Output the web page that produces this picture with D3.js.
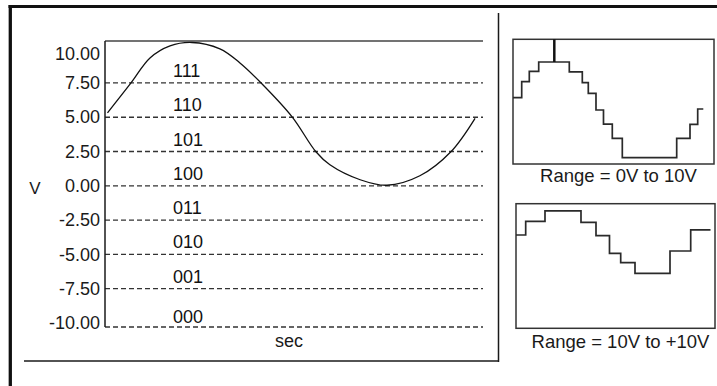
<!DOCTYPE html>
<html><head><meta charset="utf-8">
<script src="https://cdn.jsdelivr.net/npm/d3@7"></script>
<style>
html,body{margin:0;padding:0;background:#fff;}
svg{display:block;font-family:"Liberation Sans",Arial,Helvetica,sans-serif;}
</style></head>
<body>
<script>
// ---- data ----
const yTicks = [10, 7.5, 5, 2.5, 0, -2.5, -5, -7.5, -10];
const gridValues = [7.5, 5, 2.5, 0, -2.5, -5, -7.5];
const codes = ["000", "001", "010", "011", "100", "101", "110", "111"];
const codeLower = [-10, -7.5, -5, -2.5, 0, 2.5, 5, 7.5];
// analog signal (time in % of window, volts)
const sineT = [0.66, 6.88, 11.9, 17.2, 23.0, 30.4, 35.7, 41.3, 49.5, 55.8, 59.5, 67.5, 74.6, 83.3, 91.5, 97.9];
const sineV = [5.32, 7.50, 9.32, 10.20, 10.45, 9.98, 8.96, 7.50, 5.03, 2.48, 1.53, 0.44, 0.04, 0.73, 2.48, 4.92];
// quantized signal, range 0V to 10V
const topStepT = [0, 4.33, 8.11, 12.79, 28.01, 34.48, 37.46, 41.29, 45.02, 49.4, 54.38, 81.44, 88.06, 91.89, 94.68];
const topStepV = [5.32, 6.6, 7.43, 8.18, 7.38, 6.52, 5.67, 4.33, 3.19, 2.06, 0.51, 2.06, 3.18, 4.41];
const topSpikeT = 20.55;
const topSpikeV = [8.18, 10];
// quantized signal, range -10V to +10V
const botStepT = [0, 4.87, 14.57, 32.66, 40.2, 46.98, 52.61, 59.8, 77.39, 87.79, 97.74];
const botStepV = [4.98, 7.16, 8.86, 7.01, 4.86, 2.04, 0.53, -1.17, 2.41, 5.81];
const topLabel = "Range = 0V to 10V";
const botLabel = "Range = 10V to +10V";

// ---- drawing ----
const W = 717, H = 386;
const svg = d3.select("body").append("svg").attr("width", W).attr("height", H);
svg.append("rect").attr("width", W).attr("height", H).attr("fill", "#fff");
const ink = "#1a1a1a";

// outer frame
svg.append("line").attr("x1", 8.5).attr("x2", W).attr("y1", 6.5).attr("y2", 6.5)
  .attr("stroke", "#111").attr("stroke-width", 3);
svg.append("line").attr("x1", 10.3).attr("x2", 10.3).attr("y1", 5).attr("y2", H)
  .attr("stroke", "#111").attr("stroke-width", 3.3);
// separators
svg.append("line").attr("x1", 498.5).attr("x2", 498.5).attr("y1", 13).attr("y2", 362)
  .attr("stroke", ink).attr("stroke-width", 1.5);
svg.append("line").attr("x1", 24).attr("x2", 498.5).attr("y1", 361).attr("y2", 361)
  .attr("stroke", ink).attr("stroke-width", 1.5);

// main chart
const yMin = -10.3, yMax = 10.56;
const x = d3.scaleLinear().domain([0, 100]).range([105, 483]);
const y = d3.scaleLinear().domain([yMin, yMax]).range([327, 41]);
const main = svg.append("g");

main.selectAll("line.grid").data(gridValues).join("line").attr("class", "grid")
  .attr("x1", x(0)).attr("x2", x(100)).attr("y1", d => y(d)).attr("y2", d => y(d))
  .attr("stroke", "#333").attr("stroke-width", 1.3).attr("stroke-dasharray", "5,3");
// bottom dashed edge, top solid edge, left axis
main.append("line").attr("x1", x(0)).attr("x2", x(100)).attr("y1", y(yMin)).attr("y2", y(yMin))
  .attr("stroke", "#333").attr("stroke-width", 1.3).attr("stroke-dasharray", "5,3");
main.append("line").attr("x1", x(0)).attr("x2", x(100)).attr("y1", y(yMax)).attr("y2", y(yMax))
  .attr("stroke", "#444").attr("stroke-width", 1.5);
main.append("line").attr("x1", x(0)).attr("x2", x(0)).attr("y1", y(yMax)).attr("y2", y(yMin))
  .attr("stroke", ink).attr("stroke-width", 1.5);

const axis = main.append("g").attr("transform", `translate(${x(0) - 2},0)`)
  .call(d3.axisLeft(y).tickValues(yTicks).tickSize(0).tickPadding(3)
    .tickFormat(d => d.toFixed(2)));
axis.select(".domain").remove();
axis.selectAll("text").attr("font-size", 18).attr("fill", ink)
  .attr("font-family", "Liberation Sans, Arial, sans-serif");
axis.selectAll("text").filter(d => d === 10).attr("dy", "0.62em");

main.selectAll("text.code").data(codes).join("text").attr("class", "code")
  .attr("x", 173).attr("y", (d, i) => (i === 0 ? y(yMin) - 4 : y(codeLower[i]) - 6))
  .attr("font-size", 18).attr("fill", "#111").text(d => d);

main.append("text").attr("x", 35).attr("y", 194).attr("text-anchor", "middle")
  .attr("font-size", 17).attr("fill", ink).text("V");
main.append("text").attr("x", 289).attr("y", 347).attr("text-anchor", "middle")
  .attr("font-size", 18).attr("fill", ink).text("sec");

const sinePts = sineT.map((t, i) => [t, sineV[i]]);
main.append("path").datum(sinePts)
  .attr("d", d3.line().x(d => x(d[0])).y(d => y(d[1])).curve(d3.curveCatmullRom.alpha(0.5)))
  .attr("fill", "none").attr("stroke", "#111").attr("stroke-width", 1.3);

// small panels
function panel(x0, x1, y0, y1, vdom, T, V, label, labelY) {
  const px = d3.scaleLinear().domain([0, 100]).range([x0, x1]);
  const py = d3.scaleLinear().domain(vdom).range([y1, y0]);
  const g = svg.append("g");
  g.append("rect").attr("x", x0).attr("y", y0).attr("width", x1 - x0).attr("height", y1 - y0)
    .attr("fill", "none").attr("stroke", "#333").attr("stroke-width", 1.5);
  const pts = T.map((t, i) => [t, i < V.length ? V[i] : V[V.length - 1]]);
  g.append("path").datum(pts)
    .attr("d", d3.line().x(d => px(d[0])).y(d => py(d[1])).curve(d3.curveStepAfter))
    .attr("fill", "none").attr("stroke", "#2a2a2a").attr("stroke-width", 1.7);
  g.append("text").attr("x", (x0 + x1) / 2 + 5).attr("y", labelY).attr("text-anchor", "middle")
    .attr("font-size", 18.5).attr("fill", ink).text(label);
  return {g, px, py};
}
const p1 = panel(513, 714, 39.3, 164, [0, 10], topStepT, topStepV, topLabel, 182);
p1.g.append("line").attr("x1", p1.px(topSpikeT)).attr("x2", p1.px(topSpikeT))
  .attr("y1", p1.py(topSpikeV[0])).attr("y2", p1.py(topSpikeV[1]))
  .attr("stroke", "#111").attr("stroke-width", 2.5);
panel(516, 715, 203.7, 328.3, [-10, 10], botStepT, botStepV, botLabel, 348);
</script>
</body></html>
